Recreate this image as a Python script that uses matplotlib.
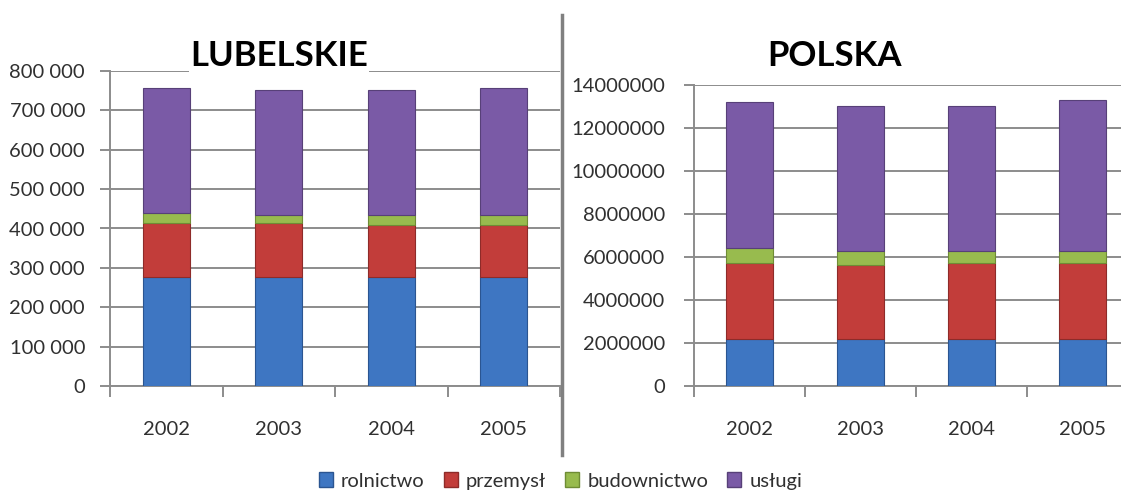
import matplotlib.pyplot as plt
from matplotlib.lines import Line2D
from matplotlib.patches import Patch
from matplotlib.ticker import FuncFormatter

plt.rcParams['font.family'] = ['Lato', 'DejaVu Sans']

years = ['2002', '2003', '2004', '2005']
series = ['rolnictwo', 'przemysł', 'budownictwo', 'usługi']
colors = ['#3E76C2', '#C23D3A', '#98BB4E', '#7A5AA6']
edges = ['#2B5591', '#8E2B29', '#6F8C35', '#574078']

# employment by sector, Lubelskie
lub_rolnictwo = [278000, 278000, 278000, 278000]
lub_przemysl = [137000, 135000, 131000, 131000]
lub_budownictwo = [24000, 22000, 26000, 26000]
lub_uslugi = [317000, 317000, 317000, 321000]

# employment by sector, Polska
pl_rolnictwo = [2170000, 2170000, 2170000, 2170000]
pl_przemysl = [3560000, 3480000, 3560000, 3560000]
pl_budownictwo = [700000, 640000, 560000, 560000]
pl_uslugi = [6780000, 6750000, 6750000, 7000000]

W, H = 1121, 492
fig = plt.figure(figsize=(W / 100, H / 100), dpi=100)
fig.patch.set_facecolor('white')


def box(x0, y0, x1, y1):
    return [x0 / W, 1 - y1 / H, (x1 - x0) / W, (y1 - y0) / H]


def draw(ax, data, ymax, step, fmt, title, title_x, ypad):
    x = list(range(len(years)))
    bottom = [0] * len(years)
    for vals, c, e in zip(data, colors, edges):
        ax.bar(x, vals, width=0.42, bottom=bottom, color=c, edgecolor=e,
               linewidth=0.8, zorder=3)
        bottom = [b + v for b, v in zip(bottom, vals)]
    ax.set_xlim(-0.5, len(years) - 0.5)
    ax.set_ylim(0, ymax)
    ax.set_yticks(range(0, ymax + 1, step))
    ax.yaxis.set_major_formatter(FuncFormatter(fmt))
    ax.grid(axis='y', color='#8C8C8C', linewidth=1.4, zorder=0)
    ax.set_xticks(x)
    ax.set_xticklabels(years)
    ax.set_xticks([i - 0.5 for i in range(len(years) + 1)], minor=True)
    ax.tick_params(axis='x', which='major', length=0, pad=25, labelsize=14.5,
                   labelcolor='#303030')
    ax.tick_params(axis='x', which='minor', length=8, width=1.4, color='#8C8C8C')
    ax.tick_params(axis='y', length=7, width=1.4, color='#8C8C8C', pad=ypad,
                   labelsize=14.5, labelcolor='#303030')
    for s in ['top', 'right']:
        ax.spines[s].set_visible(False)
    for s in ['left', 'bottom']:
        ax.spines[s].set_color('#8C8C8C')
        ax.spines[s].set_linewidth(1.4)
    fig.text(title_x / W, 1 - 56 / H, title, ha='center', va='center',
             fontsize=25, fontweight='bold', color='black',
             bbox=dict(facecolor='white', edgecolor='none', pad=1))


ax1 = fig.add_axes(box(110, 71, 560, 386))
draw(ax1, [lub_rolnictwo, lub_przemysl, lub_budownictwo, lub_uslugi],
     800000, 100000, lambda v, p: f'{int(v):,}'.replace(',', ' '),
     'LUBELSKIE', 279, 11)

ax2 = fig.add_axes(box(694, 85, 1138, 386))
draw(ax2, [pl_rolnictwo, pl_przemysl, pl_budownictwo, pl_uslugi],
     14000000, 2000000, lambda v, p: f'{int(v)}', 'POLSKA', 835, 14)

# divider between the two charts
fig.add_artist(Line2D([562 / W, 562 / W], [1 - 15 / H, 1 - 455 / H],
                      color='#808080', linewidth=2.5))

handles = [Patch(facecolor=c, edgecolor=e) for c, e in zip(colors, edges)]
fig.legend(handles, series, loc='center', bbox_to_anchor=(0.5, 1 - 481 / H),
           ncol=4, frameon=False, fontsize=14.5, handlelength=0.7,
           handleheight=0.7, handletextpad=0.4, columnspacing=0.95,
           labelcolor='#303030')

fig.savefig('out.png', dpi=100)
